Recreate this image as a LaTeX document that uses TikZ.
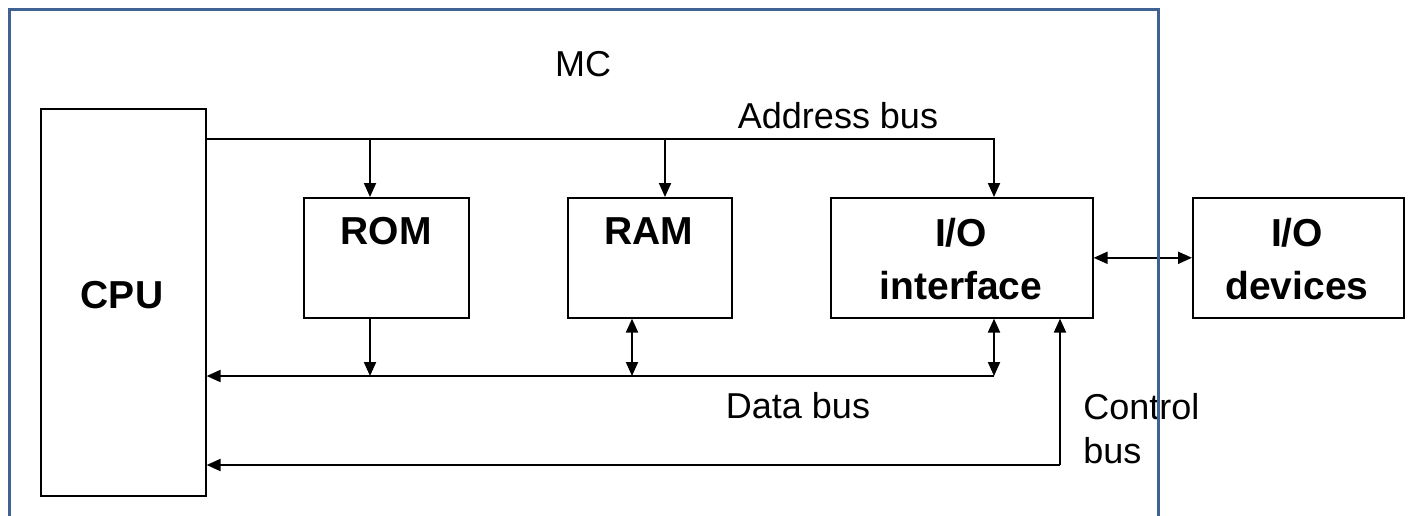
\documentclass[tikz,border=0pt]{standalone}
\usepackage{fontspec}
\setmainfont{Liberation Sans}
\usetikzlibrary{arrows.meta}
\definecolor{framecol}{RGB}{64,98,146}
\tikzset{
  box/.style={draw, line width=0.8pt, inner sep=0pt, anchor=north west},
  bus/.style={line width=1pt},
  tip/.style={-{Triangle[length=7pt,width=6pt]}},
  dtip/.style={{Triangle[length=7pt,width=6pt]}-{Triangle[length=7pt,width=6pt]}},
  txt/.style={font=\fontsize{18pt}{22pt}\selectfont, inner sep=0pt},
  btxt/.style={font=\fontsize{19.5pt}{26.5pt}\selectfont\bfseries, inner sep=0pt, align=center},
  frame/.style={draw=framecol, line width=1.7pt}
}
\begin{document}
\begin{tikzpicture}[x=0.5pt,y=-0.5pt]
\clip (0,0) rectangle (1408,515);
\fill[white] (0,0) rectangle (1408,515);
% boxes
\node[box, minimum width=82.5pt, minimum height=193.5pt] (cpu) at (40,108) {};
\node[box, minimum width=82.5pt, minimum height=60pt] (rom) at (303,197) {};
\node[box, minimum width=82pt, minimum height=60pt] (ram) at (567,197) {};
\node[box, minimum width=131pt, minimum height=60pt] (ioi) at (830,197) {};
\node[box, minimum width=105.5pt, minimum height=60pt] (iod) at (1192,197) {};
% box texts
\node[btxt, anchor=base] (cpuT) at (122,308) {CPU};
\node[btxt, anchor=base] (romT) at (386,244) {ROM};
\node[btxt, anchor=base] (ramT) at (649,244) {RAM};
\node[btxt, anchor=north] (ioiT) at (961,218) {I/O\\interface};
\node[btxt, anchor=north] (iodT) at (1297,218) {I/O\\devices};
% labels
\node[txt, anchor=base] (mc) at (583,76) {MC};
\node[txt, anchor=base] (abus) at (838,128) {Address bus};
\node[txt, anchor=base] (dbus) at (798,418) {Data bus};
\node[txt, anchor=north west, align=left] (cbus) at (1083,393) {Control\\bus};
% bus coordinates
\coordinate (ab) at (994,139);
\coordinate (abrom) at (370,139);
\coordinate (abram) at (665,139);
\coordinate (db) at (994,376);
\coordinate (dbrom) at (370,376);
\coordinate (dbram) at (632,376);
\coordinate (cb) at (1060,465);
% address bus
\draw[bus, tip] (cpu.east |- ab) -| (ab |- ioi.north);
\draw[bus, tip] (abrom) -- (abrom |- rom.north);
\draw[bus, tip] (abram) -- (abram |- ram.north);
% data bus
\draw[bus, tip] (db) -- (cpu.east |- db);
\draw[bus, tip] (dbrom |- rom.south) -- (dbrom);
\draw[bus, dtip] (dbram |- ram.south) -- (dbram);
\draw[bus, dtip] (db |- ioi.south) -- (db);
% control bus
\draw[bus, tip] (cb) -- (cb |- ioi.south);
\draw[bus, tip] (cb) -- (cpu.east |- cb);
% io link
\draw[bus, dtip] (ioi.east) -- (iod.west);
% outer frame
\draw[frame] (9.5,540) |- (1158.5,9.5) -- (1158.5,540);
\end{tikzpicture}
\end{document}
